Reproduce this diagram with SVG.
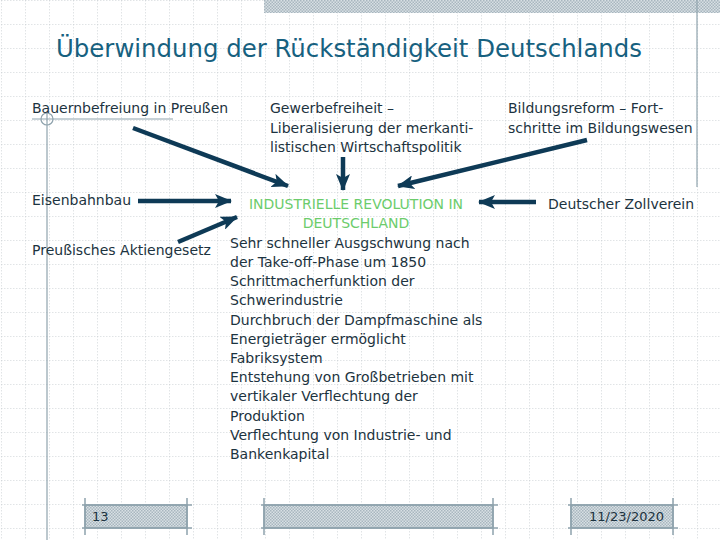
<svg xmlns="http://www.w3.org/2000/svg" width="720" height="540" viewBox="0 0 720 540">
<defs>
<pattern id="grid" x="1" y="0" width="24" height="24" patternUnits="userSpaceOnUse">
<path d="M0 0V24M0 0H24" fill="none" stroke="#c4c9cd" stroke-width="1" stroke-dasharray="1.5 1.5"/>
</pattern>
<pattern id="hatch" width="3" height="3" patternUnits="userSpaceOnUse">
<rect width="3" height="3" fill="#d8e0e4"/>
<rect width="1.5" height="1.5" fill="#a8b6bf"/>
<rect x="1.5" y="1.5" width="1.5" height="1.5" fill="#a8b6bf"/>
</pattern>
<marker id="ah" markerUnits="userSpaceOnUse" markerWidth="18" markerHeight="14" refX="16" refY="7" orient="auto">
<path d="M0 0L17 7L0 14L4 7Z" fill="#0e3a56"/>
</marker>
<style>
.t{font-family:"DejaVu Sans","Liberation Sans",sans-serif;font-size:14px;fill:#1c3340}
.g{font-family:"DejaVu Sans","Liberation Sans",sans-serif;font-size:14px;fill:#6ccc6c}
.title{font-family:"DejaVu Sans","Liberation Sans",sans-serif;font-size:25px;fill:#17617f}
.ar{stroke:#0e3a56;stroke-width:4.5;fill:none;marker-end:url(#ah)}
.fb{fill:url(#hatch);stroke:#8fa3ad;stroke-width:1.5}
.tk{stroke:#8fa3ad;stroke-width:1.5}
.ln{stroke:#8fa3ad;stroke-width:1.2;fill:none}
</style>
</defs>
<rect width="720" height="540" fill="#ffffff"/>
<rect width="720" height="540" fill="url(#grid)"/>
<g id="decor">
<rect x="264" y="0" width="456" height="13" fill="url(#hatch)"/>
<line class="ln" x1="697" y1="0" x2="697" y2="187"/>
<line class="ln" x1="32" y1="119" x2="173" y2="119"/>
<line class="ln" x1="47" y1="112" x2="47" y2="540"/>
<circle class="ln" cx="47" cy="119" r="6"/>
</g>
<g id="title"><text class="title" x="56" y="57" textLength="586" lengthAdjust="spacingAndGlyphs">Überwindung der Rückständigkeit Deutschlands</text></g>
<g id="bauern"><text class="t" x="32" y="113">Bauernbefreiung in Preußen</text></g>
<g id="gewerbe"><text class="t" x="270" y="113">Gewerbefreiheit –<tspan x="270" y="133">Liberalisierung der merkanti-</tspan><tspan x="270" y="152">listischen Wirtschaftspolitik</tspan></text></g>
<g id="bildung"><text class="t" x="508" y="113">Bildungsreform – Fort-<tspan x="508" y="133">schritte im Bildungswesen</tspan></text></g>
<g id="eisenbahn"><text class="t" x="32" y="205">Eisenbahnbau</text></g>
<g id="aktien"><text class="t" x="32" y="255">Preußisches Aktiengesetz</text></g>
<g id="zollverein"><text class="t" x="548" y="209">Deutscher Zollverein</text></g>
<g id="center">
<text class="g" x="356" y="209" text-anchor="middle">INDUSTRIELLE REVOLUTION IN</text>
<text class="g" x="356" y="228" text-anchor="middle">DEUTSCHLAND</text>
<text class="t" x="230" y="248">Sehr schneller Ausgschwung nach<tspan x="230" y="267">der Take-off-Phase um 1850</tspan><tspan x="230" y="286">Schrittmacherfunktion der</tspan><tspan x="230" y="305">Schwerindustrie</tspan><tspan x="230" y="325">Durchbruch der Dampfmaschine als</tspan><tspan x="230" y="344">Energieträger ermöglicht</tspan><tspan x="230" y="363">Fabriksystem</tspan><tspan x="230" y="382">Entstehung von Großbetrieben mit</tspan><tspan x="230" y="401">vertikaler Verflechtung der</tspan><tspan x="230" y="421">Produktion</tspan><tspan x="230" y="440">Verflechtung von Industrie- und</tspan><tspan x="230" y="459">Bankenkapital</tspan></text>
</g>
<g id="connectors">
<line class="ar" x1="133" y1="128" x2="288" y2="186"/>
<line class="ar" x1="343" y1="157" x2="343" y2="190"/>
<line class="ar" x1="138" y1="201" x2="231" y2="201"/>
<line class="ar" x1="178" y1="242" x2="237" y2="217"/>
<line class="ar" x1="587" y1="140" x2="398" y2="186"/>
<line class="ar" x1="536" y1="202" x2="479" y2="202"/>
</g>
<g id="footer">
<rect class="fb" x="85" y="505" width="102" height="23"/>
<path class="tk" d="M85 498V535M187 498V535M82 505H192M82 528H192"/>
<text class="t" x="92" y="521" style="font-size:13px">13</text>
<rect class="fb" x="264" y="505" width="229" height="23"/>
<path class="tk" d="M264 498V535M493 498V535M261 505H498M261 528H498"/>
<rect class="fb" x="571" y="505" width="102" height="23"/>
<path class="tk" d="M571 498V535M673 498V535M568 505H678M568 528H678"/>
<text class="t" x="664" y="521" text-anchor="end" style="font-size:13px">11/23/2020</text>
</g>
</svg>
